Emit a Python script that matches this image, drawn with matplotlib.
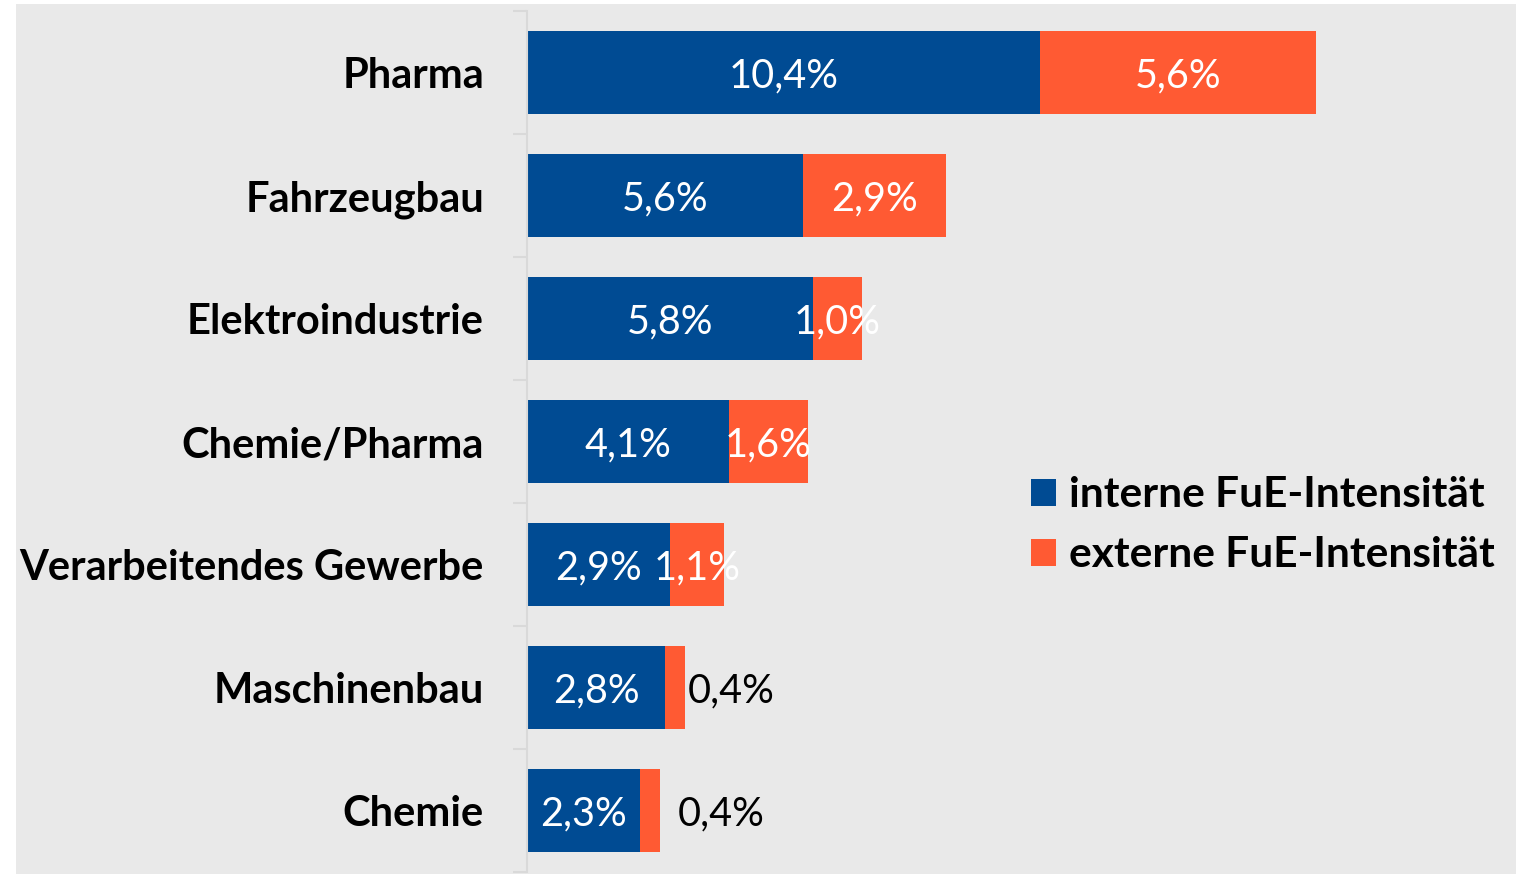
import matplotlib
matplotlib.use("Agg")
import matplotlib.pyplot as plt
from matplotlib.patches import Rectangle
import numpy as np

categories = ["Pharma", "Fahrzeugbau", "Elektroindustrie", "Chemie/Pharma",
              "Verarbeitendes Gewerbe", "Maschinenbau", "Chemie"]
intern = [10.4, 5.6, 5.8, 4.1, 2.9, 2.8, 2.3]
extern = [5.6, 2.9, 1.0, 1.6, 1.1, 0.4, 0.4]
series_names = ["interne FuE-Intensität", "externe FuE-Intensität"]

BLUE = "#004b93"
ORANGE = "#ff5a33"
BG = "#e9e9e9"
FONT = "Lato"

W, H = 1516, 874
fig = plt.figure(figsize=(W / 100, H / 100), dpi=100)
fig.patch.set_facecolor("white")
fig.patches.append(Rectangle((16 / W, 0), 1 - 16 / W, 1 - 4 / H,
                             transform=fig.transFigure, facecolor=BG,
                             edgecolor="none", zorder=-10))

ax_l, ax_r = 527, 1506
ax_t, ax_b = 11, 872
ax = fig.add_axes([ax_l / W, 1 - ax_b / H, (ax_r - ax_l) / W, (ax_b - ax_t) / H])
ax.set_facecolor("none")

px_per_unit = 49.3
ax.set_xlim(0, (ax_r - ax_l) / px_per_unit)
n = len(categories)
ax.set_ylim(n - 0.5, -0.5)
y = np.arange(n)
bh = 0.667

b1 = ax.barh(y, intern, height=bh, color=BLUE, label=series_names[0], zorder=2)
b2 = ax.barh(y, extern, left=intern, height=bh, color=ORANGE, label=series_names[1], zorder=2)

def fmt(v):
    return f"{v:.1f}".replace(".", ",") + "%"

VS = 28.5
for i in range(n):
    ax.text(intern[i] / 2, i + 0.03, fmt(intern[i]), ha="center", va="center",
            color="white", fontsize=VS, family=FONT, zorder=3)
    if extern[i] >= 0.8:
        ax.text(intern[i] + extern[i] / 2, i + 0.03, fmt(extern[i]), ha="center",
                va="center", color="white", fontsize=VS, family=FONT, zorder=3)
    else:
        off = 0.06 if i == 5 else 0.35
        ax.text(intern[i] + extern[i] + off, i + 0.03, fmt(extern[i]), ha="left",
                va="center", color="black", fontsize=VS, family=FONT, zorder=3)

ax.set_yticks(y)
ax.set_yticklabels(categories, fontsize=30, fontweight="bold", family=FONT)
ax.tick_params(axis="y", which="major", length=0, pad=31)
ax.set_yticks(np.arange(n + 1) - 0.5, minor=True)
ax.tick_params(axis="y", which="minor", length=10, width=1.5, color="#d9d9d9")
ax.set_xticks([])
for s in ["top", "right", "bottom"]:
    ax.spines[s].set_visible(False)
ax.spines["left"].set_color("#d9d9d9")
ax.spines["left"].set_linewidth(1.5)

leg = ax.legend(loc="upper left",
                bbox_to_anchor=((1031 - ax_l) / (ax_r - ax_l), 1 - (476 - ax_t) / (ax_b - ax_t)),
                frameon=False, prop={"family": FONT, "weight": "bold", "size": 30.5},
                handlelength=0.6, handleheight=0.6, handletextpad=0.3, labelspacing=0.53,
                borderaxespad=0, borderpad=0)

fig.savefig("out.png", dpi=100)
